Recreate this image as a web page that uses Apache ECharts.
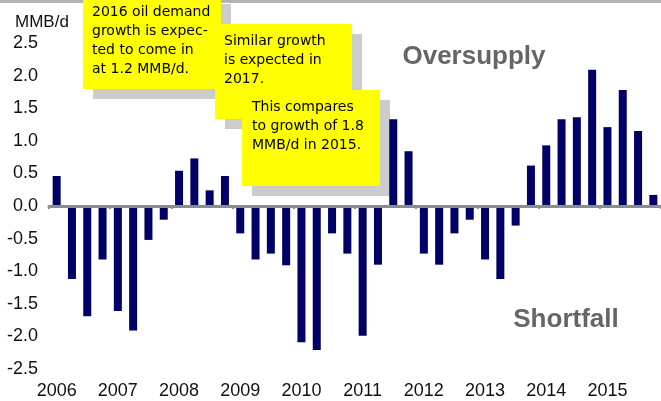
<!DOCTYPE html>
<html>
<head>
<meta charset="utf-8">
<script src="https://cdn.jsdelivr.net/npm/echarts@6/dist/echarts.min.js"></script>
<style>
  html, body { margin: 0; padding: 0; background: #fff; }
  #chart { width: 661px; height: 401px; }
</style>
</head>
<body>
<div id="chart"></div>
<script>
// quarterly supply/demand balance, MMB/d
var years = ['2006', '2007', '2008', '2009', '2010', '2011', '2012', '2013', '2014', '2015'];
var quarters = ['Q1', 'Q2', 'Q3', 'Q4'];
var balance = [
    0.46, -1.12, -1.69, -0.82,
    -1.61, -1.91, -0.52, -0.21,
    0.54, 0.73, 0.24, 0.46,
    -0.42, -0.82, -0.73, -0.91,
    -2.09, -2.21, -0.42, -0.73,
    -1.99, -0.90, 1.33, 0.84,
    -0.73, -0.90, -0.42, -0.21,
    -0.82, -1.12, -0.30, 0.62,
    0.93, 1.33, 1.36, 2.09,
    1.21, 1.78, 1.15, 0.17
];
var notes = [
    '2016 oil demand\ngrowth is expec-\nted to come in\nat 1.2 MMB/d.',
    'Similar growth\nis expected in\n2017.',
    'This compares\nto growth of 1.8\nMMB/d in 2015.'
];

var categories = [];
years.forEach(function (y) {
    quarters.forEach(function (q) { categories.push(y + ' ' + q); });
});

var labelFont = "'Liberation Sans', Arial, sans-serif";
var noteFont = "'Comic Sans MS', 'DejaVu Sans', sans-serif";

function callout(x, y, w, h, tx, ty, text) {
    return [
        { type: 'rect', shape: { x: x + 10, y: y + 10, width: w, height: h }, style: { fill: '#cccccc' } },
        { type: 'rect', shape: { x: x, y: y, width: w, height: h }, style: { fill: '#ffff00' } },
        { type: 'text', x: tx, y: ty, style: { text: text, font: '14px ' + noteFont, fill: '#000', lineHeight: 19, verticalAlign: 'top' } }
    ];
}

var chart = echarts.init(document.getElementById('chart'));
var option = {
    animation: false,
    grid: { left: 49, right: -4, top: 43, bottom: 32 },
    xAxis: [
        {
            type: 'category',
            data: categories,
            z: 10,
            axisLine: { onZero: true, lineStyle: { color: '#8c8c8c', width: 3, cap: 'round' } },
            axisTick: { show: true, interval: 3, length: 3, lineStyle: { color: '#8c8c8c', width: 2 } },
            axisLabel: { show: false }
        },
        {
            type: 'category',
            data: categories,
            position: 'bottom',
            axisLine: { show: false, onZero: false },
            axisTick: { show: false },
            axisLabel: {
                interval: 3,
                margin: 13,
                color: '#111',
                fontSize: 18,
                fontFamily: labelFont,
                formatter: function (v) { return v.split(' ')[0]; }
            }
        }
    ],
    yAxis: {
        type: 'value',
        min: -2.5,
        max: 2.5,
        interval: 0.5,
        splitLine: { show: false },
        axisLine: { show: false },
        axisTick: { show: false },
        axisLabel: {
            margin: 11,
            color: '#111',
            fontSize: 18,
            fontFamily: labelFont,
            formatter: function (v) { return v.toFixed(1); }
        }
    },
    series: [
        {
            type: 'bar',
            data: balance,
            barWidth: 8,
            itemStyle: { color: '#000066' }
        }
    ],
    graphic: [].concat(
        [{ type: 'rect', shape: { x: 0, y: 0, width: 661, height: 3 }, style: { fill: '#b3b3b3' } }],
        [{ type: 'text', x: 15, y: 22, style: { text: 'MMB/d', font: '17px ' + labelFont, fill: '#111', verticalAlign: 'middle' } }],
        [{ type: 'text', x: 474, y: 57, style: { text: 'Oversupply', font: 'bold 26px ' + labelFont, fill: '#666666', align: 'center', verticalAlign: 'middle' } }],
        [{ type: 'text', x: 566, y: 320, style: { text: 'Shortfall', font: 'bold 26px ' + labelFont, fill: '#666666', align: 'center', verticalAlign: 'middle' } }],
        callout(83, -6, 138, 95, 92, 2.5, notes[0]),
        callout(215, 24, 137, 95, 224, 31.5, notes[1]),
        callout(242, 90, 138, 96, 252, 97.5, notes[2])
    )
};
chart.setOption(option);
</script>
</body>
</html>
